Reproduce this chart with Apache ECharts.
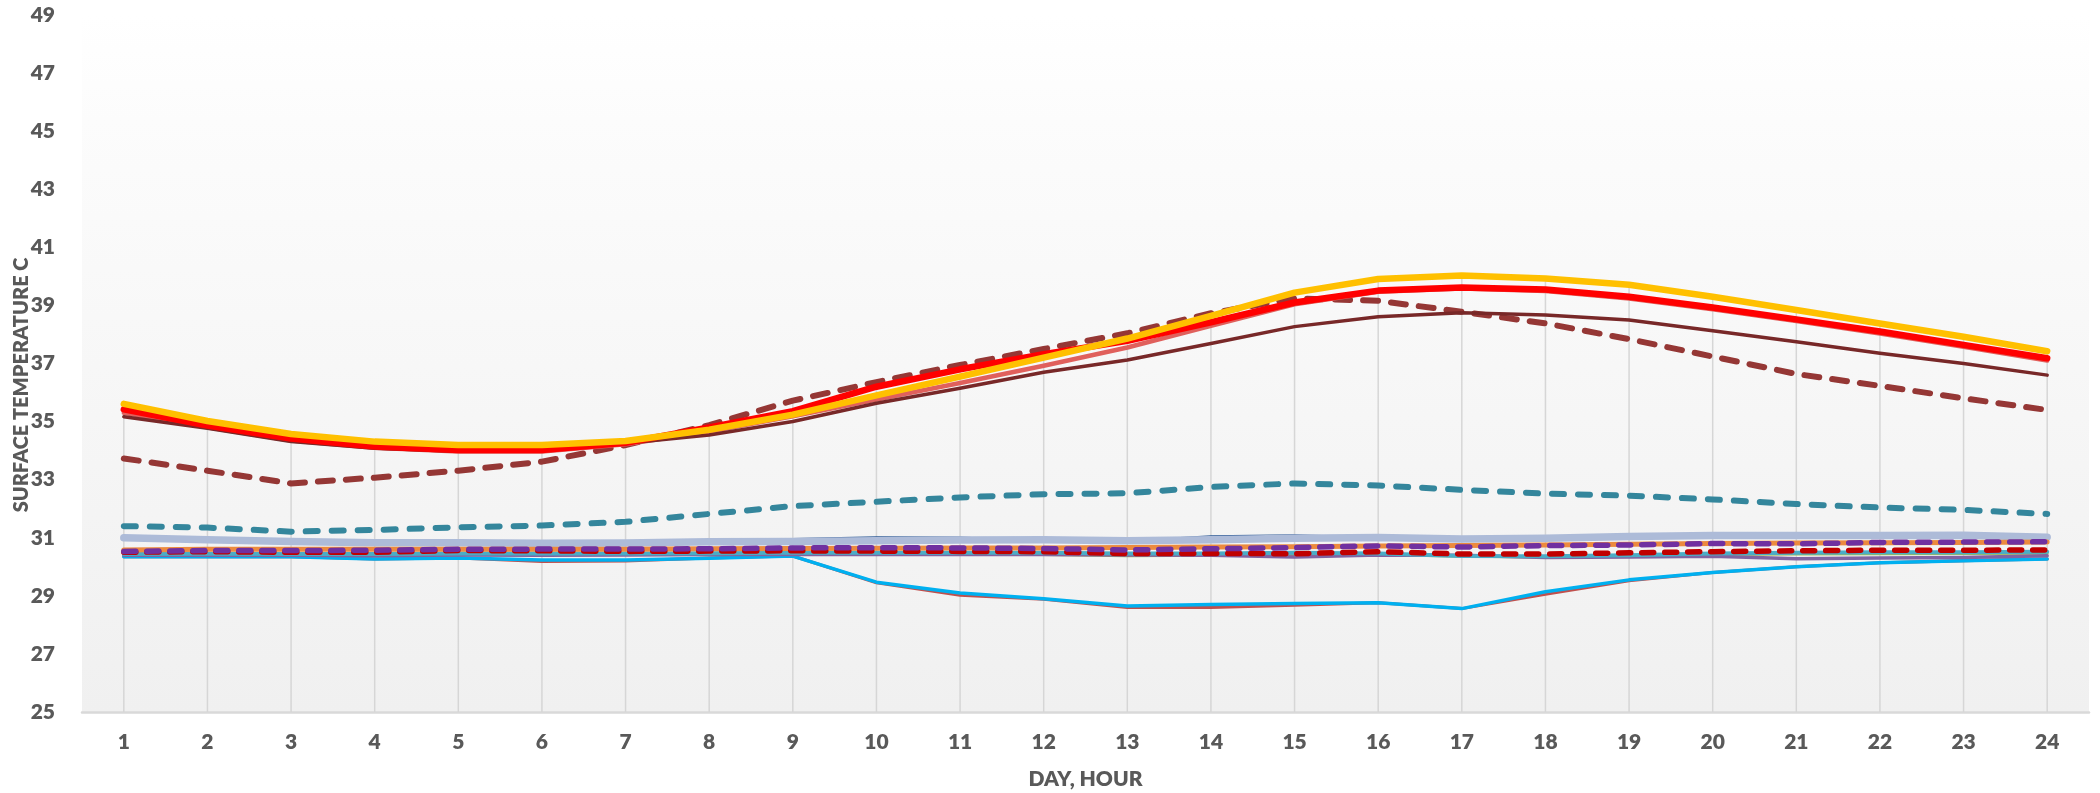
<!DOCTYPE html>
<html>
<head>
<meta charset="utf-8">
<title>Surface temperature by hour</title>
<script src="https://cdn.jsdelivr.net/npm/echarts@6/dist/echarts.min.js"></script>
<style>
  html, body { margin: 0; padding: 0; background: #ffffff; }
  #chart { width: 2100px; height: 793px; }
</style>
</head>
<body>
<div id="chart"></div>
<script>
// Hour of the day (x categories)
const hours = ['1','2','3','4','5','6','7','8','9','10','11','12','13','14','15','16','17','18','19','20','21','22','23','24'];

// Surface temperatures, degrees C, one value per hour
const yellowSolid   = [35.61,35.02,34.57,34.31,34.19,34.19,34.33,34.72,35.24,35.9,36.55,37.2,37.86,38.64,39.44,39.91,40.03,39.93,39.71,39.3,38.84,38.38,37.92,37.42];
const redSolid      = [35.42,34.86,34.42,34.14,34.02,34.02,34.27,34.8,35.36,36.2,36.8,37.32,37.78,38.42,39.1,39.51,39.62,39.55,39.3,38.93,38.52,38.1,37.64,37.18];
const lightRedSolid = [35.3,34.8,34.35,34.1,33.97,33.97,34.22,34.66,35.18,35.76,36.33,36.92,37.55,38.3,39.04,39.47,39.58,39.5,39.24,38.87,38.46,38.03,37.58,37.1];
const maroonSolid   = [35.17,34.77,34.31,34.08,33.98,34.0,34.25,34.54,35.0,35.63,36.15,36.7,37.12,37.69,38.27,38.61,38.75,38.67,38.5,38.13,37.75,37.35,37.0,36.6];
const maroonDashed  = [33.73,33.31,32.87,33.07,33.31,33.62,34.19,34.88,35.72,36.36,36.95,37.5,38.04,38.73,39.24,39.16,38.78,38.38,37.84,37.24,36.64,36.23,35.8,35.4];
const tealDashed    = [31.4,31.35,31.21,31.27,31.36,31.42,31.55,31.82,32.09,32.24,32.39,32.5,32.53,32.75,32.87,32.8,32.65,32.52,32.45,32.32,32.16,32.04,31.96,31.82];
const steelBlue     = [31.0,30.93,30.87,30.83,30.83,30.81,30.82,30.86,30.87,30.9,30.92,30.93,30.9,30.93,30.98,31.01,30.96,30.98,31.04,31.08,31.08,31.08,31.09,31.02];
const navyThin      = [30.97,30.92,30.85,30.81,30.8,30.79,30.8,30.84,30.95,31.01,31.0,30.88,30.88,31.04,31.08,31.0,30.93,30.96,31.02,31.06,31.08,31.15,31.15,31.0];
const orangeSolid   = [30.58,30.6,30.6,30.6,30.6,30.6,30.6,30.62,30.63,30.64,30.65,30.65,30.66,30.68,30.69,30.72,30.73,30.75,30.78,30.8,30.82,30.83,30.84,30.85];
const purpleDashed  = [30.53,30.56,30.56,30.57,30.6,30.61,30.61,30.62,30.65,30.66,30.65,30.63,30.58,30.62,30.66,30.72,30.68,30.73,30.75,30.8,30.79,30.84,30.85,30.86];
const crimsonDashed = [30.5,30.52,30.5,30.5,30.56,30.55,30.53,30.54,30.55,30.54,30.53,30.52,30.46,30.46,30.45,30.52,30.44,30.44,30.48,30.52,30.55,30.57,30.57,30.58];
const aquaSolid     = [30.44,30.45,30.44,30.44,30.46,30.46,30.46,30.47,30.48,30.48,30.48,30.48,30.46,30.46,30.48,30.46,30.37,30.36,30.4,30.46,30.48,30.5,30.5,30.52];
const violetSolid   = [30.4,30.4,30.4,30.38,30.41,30.4,30.41,30.42,30.42,30.42,30.42,30.42,30.41,30.4,30.34,30.41,30.4,30.32,30.34,30.36,30.28,30.3,30.32,30.38];
const oliveSolid    = [30.41,30.42,30.41,30.4,30.42,30.42,30.42,30.43,30.43,30.43,30.43,30.42,30.38,30.4,30.42,30.42,30.36,30.34,30.38,30.42,30.44,30.45,30.46,30.47];
const brickThin     = [30.35,30.35,30.35,30.27,30.3,30.18,30.2,30.3,30.37,29.45,29.02,28.88,28.6,28.6,28.68,28.76,28.56,29.05,29.52,29.8,30.0,30.14,30.21,30.27];
const skySolid      = [30.35,30.35,30.35,30.27,30.3,30.23,30.23,30.29,30.37,29.47,29.1,28.9,28.65,28.7,28.74,28.76,28.56,29.14,29.55,29.8,30.0,30.14,30.21,30.27];

// Y axis range and step
const yMin = 25, yMax = 49, yStep = 2;
const yTitle = 'SURFACE TEMPERATURE C';
const xTitle = 'DAY, HOUR';

const allSeries = [yellowSolid, redSolid, lightRedSolid, maroonSolid, maroonDashed, tealDashed,
  steelBlue, navyThin, orangeSolid, purpleDashed, crimsonDashed, aquaSolid, violetSolid,
  oliveSolid, brickThin, skySolid];
// Drop lines run from the highest reading of each hour down to the axis
const dropTop = hours.map((_, i) => Math.max(...allSeries.map(s => s[i])));

const FONT = 'Lato, "Open Sans", sans-serif';
const TEXT = '#595959';

function line(name, data, color, width, dash, z) {
  return {
    name, type: 'line', data, z,
    symbol: 'none', smooth: false, silent: true,
    lineStyle: { color, width, type: dash || 'solid', cap: 'round', join: 'round' }
  };
}

const chart = echarts.init(document.getElementById('chart'), null, { renderer: 'canvas' });
chart.setOption({
  animation: false,
  backgroundColor: '#ffffff',
  grid: {
    left: 82, right: 11, top: 15, bottom: 81,
    outerBoundsMode: 'none', containLabel: false,
    show: true, borderWidth: 0,
    backgroundColor: new echarts.graphic.LinearGradient(0, 0, 0, 1, [
      { offset: 0, color: '#ffffff' },
      { offset: 0.15, color: '#fcfcfc' },
      { offset: 1, color: '#f0f0f0' }
    ])
  },
  // Vertical axis title, rotated, sitting left of the tick labels
  graphic: [{
    type: 'text', x: 22, y: 385, rotation: Math.PI / 2, silent: true,
    style: {
      text: yTitle, fill: TEXT, align: 'center', verticalAlign: 'middle',
      font: '800 20px ' + FONT
    }
  }],
  xAxis: {
    type: 'category', data: hours, boundaryGap: true,
    name: xTitle, nameLocation: 'middle', nameGap: 57,
    nameTextStyle: { fontFamily: FONT, fontWeight: 800, fontSize: 21, color: TEXT },
    axisLine: { show: true, lineStyle: { color: '#d9d9d9', width: 2.5 } },
    axisTick: { show: false },
    axisLabel: { fontFamily: FONT, fontWeight: 800, fontSize: 21, color: TEXT, margin: 20 },
    splitLine: { show: false }
  },
  yAxis: {
    type: 'value', min: yMin, max: yMax, interval: yStep,
    axisLine: { show: false }, axisTick: { show: false },
    axisLabel: { fontFamily: FONT, fontWeight: 800, fontSize: 21, color: TEXT, margin: 27 },
    splitLine: { show: false }
  },
  series: [
    { name: 'drop', type: 'bar', data: dropTop, barWidth: 1.5, z: 1, silent: true,
      itemStyle: { color: '#d6d6d6' } },
    line('olive', oliveSolid, '#9BBB59', 3, null, 2),
    line('brick', brickThin, '#C0504D', 3, null, 3),
    line('sky', skySolid, '#00B0F0', 3.5, null, 4),
    line('violet', violetSolid, '#8064A2', 3.5, null, 5),
    line('aqua', aquaSolid, '#4BACC6', 4, null, 6),
    line('navy', navyThin, '#2F5B96', 2.5, null, 7),
    line('steel', steelBlue, '#ADBBD8', 7.5, null, 8),
    line('orange', orangeSolid, '#EC8A3E', 5, null, 9),
    line('crimsonDash', crimsonDashed, '#C00000', 5.5, [12, 11], 10),
    line('purpleDash', purpleDashed, '#7030A0', 5.5, [12, 11], 11),
    line('tealDash', tealDashed, '#34869C', 6, [12, 14], 12),
    line('maroonDash', maroonDashed, '#953735', 6, [15, 13], 13),
    line('lightRed', lightRedSolid, '#E0605C', 4.5, null, 14),
    line('maroon', maroonSolid, '#782828', 3.5, null, 15),
    line('red', redSolid, '#FF0000', 6.5, null, 16),
    line('yellow', yellowSolid, '#FFC000', 6.5, null, 17)
  ]
});
</script>
</body>
</html>
